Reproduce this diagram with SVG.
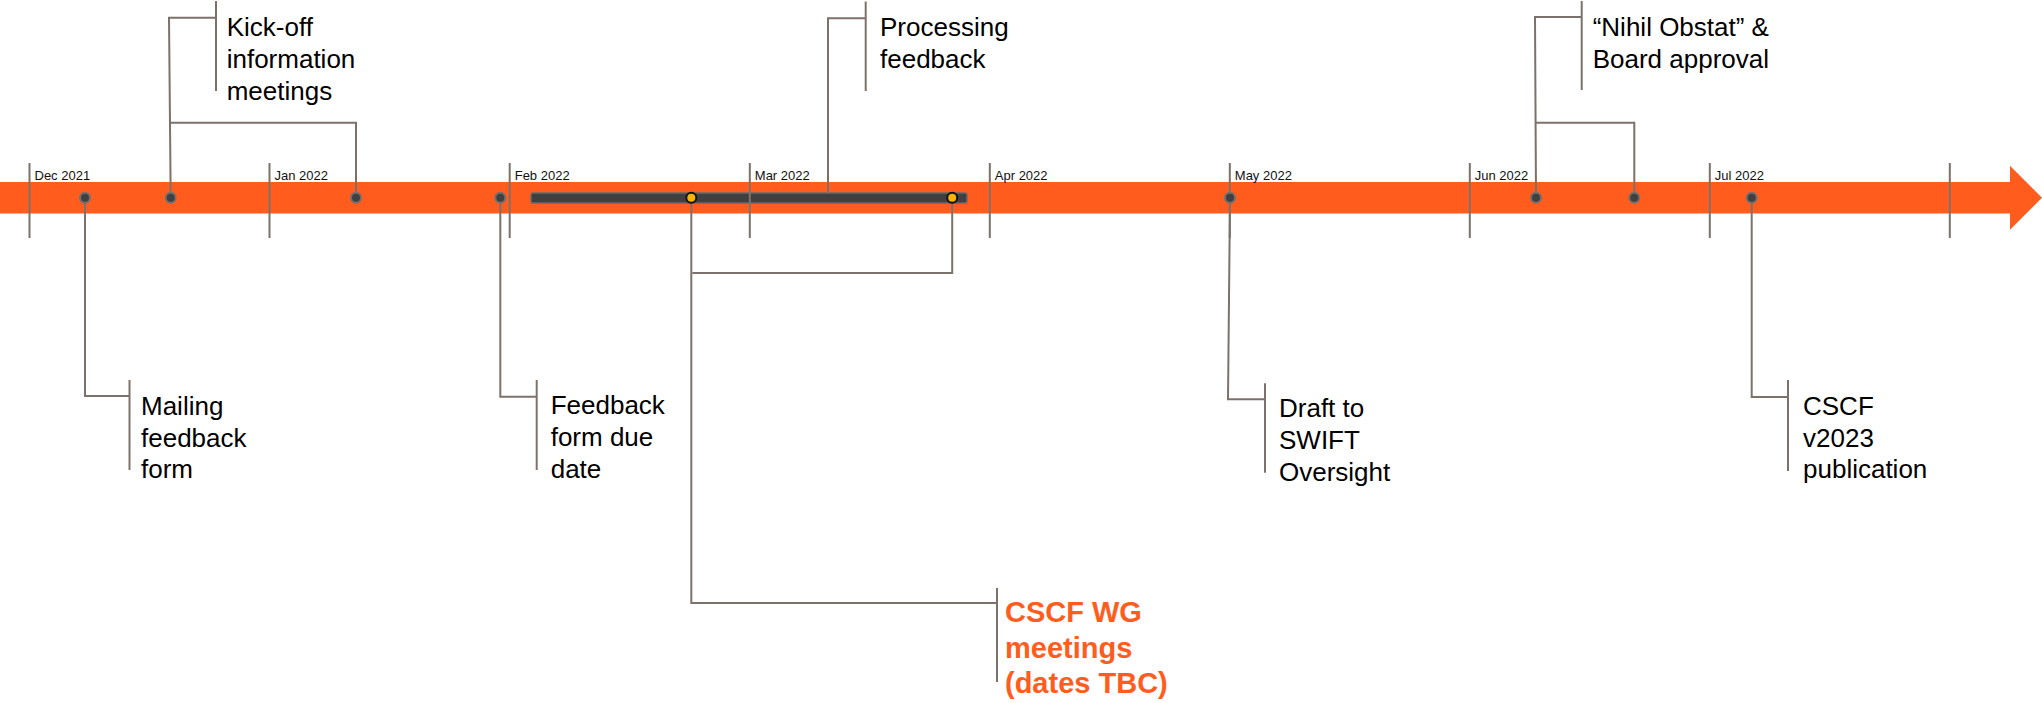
<svg xmlns="http://www.w3.org/2000/svg" width="2042" height="703" viewBox="0 0 2042 703">
<style>
.tick{stroke:#7d726b;stroke-width:2;fill:none}
.con{stroke:#7d726b;stroke-width:2;fill:none}
.mon{font-family:"Liberation Sans",Arial,sans-serif;font-size:13px;fill:#111}
.lbl{font-family:"Liberation Sans",Arial,sans-serif;font-size:26px;fill:#000}
.hl{font-family:"Liberation Sans",Arial,sans-serif;font-size:29px;font-weight:bold;fill:#FF5C1E}
.dot{fill:#404040;stroke:#707070;stroke-width:2}
.ydot{fill:#F7B500;stroke:#111;stroke-width:2}
</style>
<rect width="2042" height="703" fill="#fff"/>
<g id="timeline">
<path d="M0,182 H2010 V165.7 L2042,197.7 L2010,229.7 V213.5 H0 Z" fill="#FF5C1E"/>
<rect x="531" y="193" width="436" height="10" rx="2" fill="#404040" stroke="#6a6a6a" stroke-width="1.5"/>
</g>
<g id="ticks">
<line class="tick" x1="29.5" y1="163" x2="29.5" y2="238"/>
<line class="tick" x1="269.5" y1="163" x2="269.5" y2="238"/>
<line class="tick" x1="509.7" y1="163" x2="509.7" y2="238"/>
<line class="tick" x1="749.8" y1="163" x2="749.8" y2="238"/>
<line class="tick" x1="989.8" y1="163" x2="989.8" y2="238"/>
<line class="tick" x1="1229.8" y1="163" x2="1229.8" y2="238"/>
<line class="tick" x1="1469.8" y1="163" x2="1469.8" y2="238"/>
<line class="tick" x1="1709.8" y1="163" x2="1709.8" y2="238"/>
<line class="tick" x1="1949.8" y1="163" x2="1949.8" y2="238"/>
<text class="mon" x="34.5" y="180">Dec 2021</text>
<text class="mon" x="274.5" y="180">Jan 2022</text>
<text class="mon" x="514.7" y="180">Feb 2022</text>
<text class="mon" x="754.8" y="180">Mar 2022</text>
<text class="mon" x="994.8" y="180">Apr 2022</text>
<text class="mon" x="1234.8" y="180">May 2022</text>
<text class="mon" x="1474.8" y="180">Jun 2022</text>
<text class="mon" x="1714.8" y="180">Jul 2022</text>
</g>
<g id="connectors">
<path class="con" d="M85,198 V396 H129.5"/>
<line class="con" x1="129.5" y1="380" x2="129.5" y2="470"/>
<path class="con" d="M170.7,198 L169,17.7 H216"/>
<path class="con" d="M356,198 V122.7 H169"/>
<line class="con" x1="216" y1="1" x2="216" y2="91"/>
<path class="con" d="M500.3,198 V396.7 H536.7"/>
<line class="con" x1="536.7" y1="380" x2="536.7" y2="470"/>
<path class="con" d="M828,193 V18.3 H865.7"/>
<line class="con" x1="865.7" y1="1.5" x2="865.7" y2="91"/>
<path class="con" d="M691.3,198 V603 H997"/>
<path class="con" d="M952.2,198 V273 H692.3"/>
<line class="con" x1="997" y1="588" x2="997" y2="682"/>
<path class="con" d="M1230,198 L1228,399.3 H1265"/>
<line class="con" x1="1265" y1="383.3" x2="1265" y2="472.7"/>
<path class="con" d="M1536,198 L1535,17 H1581.7"/>
<path class="con" d="M1634.3,198 V122.7 H1535"/>
<line class="con" x1="1581.7" y1="1" x2="1581.7" y2="90"/>
<path class="con" d="M1751.7,198 V397 H1788"/>
<line class="con" x1="1788" y1="380" x2="1788" y2="471"/>
</g>
<g id="dots">
<circle class="dot" cx="85" cy="197.7" r="5"/>
<circle class="dot" cx="170.7" cy="197.7" r="5"/>
<circle class="dot" cx="356" cy="197.7" r="5"/>
<circle class="dot" cx="500.3" cy="197.7" r="5"/>
<circle class="ydot" cx="691.3" cy="197.7" r="5"/>
<circle class="ydot" cx="952.2" cy="197.7" r="5"/>
<circle class="dot" cx="1230" cy="197.7" r="5"/>
<circle class="dot" cx="1536" cy="197.7" r="5"/>
<circle class="dot" cx="1634.3" cy="197.7" r="5"/>
<circle class="dot" cx="1751.7" cy="197.7" r="5"/>
</g>
<g id="n-mailing"><text class="lbl" x="141" y="415"><tspan x="141">Mailing</tspan><tspan x="141" dy="31.7">feedback</tspan><tspan x="141" dy="31.7">form</tspan></text></g>
<g id="n-kickoff"><text class="lbl" x="226.7" y="36"><tspan x="226.7">Kick-off</tspan><tspan x="226.7" dy="32">information</tspan><tspan x="226.7" dy="32">meetings</tspan></text></g>
<g id="n-feedback-due"><text class="lbl" x="550.7" y="414.3"><tspan x="550.7">Feedback</tspan><tspan x="550.7" dy="31.7">form due</tspan><tspan x="550.7" dy="31.7">date</tspan></text></g>
<g id="n-processing"><text class="lbl" x="880" y="36"><tspan x="880">Processing</tspan><tspan x="880" dy="32">feedback</tspan></text></g>
<g id="n-wg"><text class="hl" x="1005" y="622"><tspan x="1005">CSCF WG</tspan><tspan x="1005" dy="35.5">meetings</tspan><tspan x="1005" dy="35.5">(dates TBC)</tspan></text></g>
<g id="n-draft"><text class="lbl" x="1279" y="417.3"><tspan x="1279">Draft to</tspan><tspan x="1279" dy="31.7">SWIFT</tspan><tspan x="1279" dy="31.7">Oversight</tspan></text></g>
<g id="n-nihil"><text class="lbl" x="1592.7" y="36"><tspan x="1592.7">“Nihil Obstat” &amp;</tspan><tspan x="1592.7" dy="32">Board approval</tspan></text></g>
<g id="n-cscf"><text class="lbl" x="1803" y="415"><tspan x="1803">CSCF</tspan><tspan x="1803" dy="31.7">v2023</tspan><tspan x="1803" dy="31.7">publication</tspan></text></g>
</svg>
